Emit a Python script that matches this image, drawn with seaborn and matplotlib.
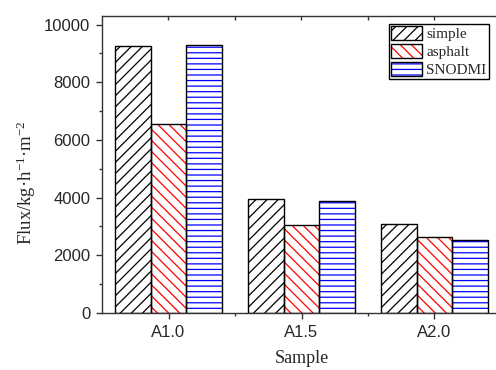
import matplotlib
matplotlib.use("Agg")
import matplotlib.pyplot as plt
import seaborn as sns
import pandas as pd
from matplotlib.patches import Rectangle, Patch
from matplotlib.legend_handler import HandlerTuple
from matplotlib.ticker import MultipleLocator, FixedLocator

# Flux of each membrane sample (kg·h^-1·m^-2)
samples = ["A1.0", "A1.5", "A2.0"]
series = ["simple", "asphalt", "SNODMI"]
simple = [9260, 3950, 3100]
asphalt = [6560, 3050, 2620]
snodmi = [9310, 3900, 2530]

hatches = ["///", "\\\\\\", "---"]
hatch_colors = ["black", "#ff0000", "#0000ff"]

df = pd.DataFrame({
    "Sample": samples * 3,
    "Type": [s for s in series for _ in samples],
    "Flux": simple + asphalt + snodmi,
})

sns.set_theme(style="ticks")
plt.rcParams["font.family"] = ["Liberation Sans", "DejaVu Sans"]
plt.rcParams["mathtext.default"] = "regular"
plt.rcParams["hatch.linewidth"] = 0.9

fig = plt.figure(figsize=(4.96, 3.70), dpi=100)
ax = fig.add_axes([102 / 496, 1 - 313 / 370, 399 / 496, 297 / 370])

sns.barplot(data=df, x="Sample", y="Flux", hue="Type", hue_order=series,
            palette=["white"] * 3, saturation=1, width=0.8, errorbar=None,
            legend=False, ax=ax)

for cont, h, c in zip(ax.containers, hatches, hatch_colors):
    for bar in cont:
        bar.set_facecolor("white")
        bar.set_hatch(h)
        bar.set_edgecolor(c)
        bar.set_linewidth(0)
        ax.add_patch(Rectangle(bar.get_xy(), bar.get_width(), bar.get_height(),
                               fill=False, edgecolor="black", lw=1.0,
                               zorder=bar.get_zorder() + 0.1))

ax.set_xlim(-0.5, 2.5)
ax.set_ylim(0, 10300)

ax.yaxis.set_major_locator(MultipleLocator(2000))
ax.yaxis.set_minor_locator(MultipleLocator(1000))
ax.xaxis.set_minor_locator(FixedLocator([0.5, 1.5]))

ax.tick_params(axis="both", which="major", labelsize=12, length=4.5,
               width=1, color="#333333", direction="out", pad=4)
ax.tick_params(axis="both", which="minor", length=2.5, width=1,
               color="#333333", direction="out")

top = ax.secondary_xaxis("top")
top.set_xticks([0, 0.5, 1, 1.5, 2])
top.tick_params(direction="in", length=3, width=1, color="#333333",
                labeltop=False)

for sp in ax.spines.values():
    sp.set_color("#333333")
    sp.set_linewidth(1.0)
top.spines["top"].set_visible(False)

serif = ["Liberation Serif", "DejaVu Serif"]
ax.set_xlabel("Sample", fontsize=13, family=serif)
ax.set_ylabel("Flux/kg·h$^{-1}$·m$^{-2}$", fontsize=13.5, family=serif)
ax.xaxis.set_label_coords(0.5, -0.125)
ax.yaxis.set_label_coords(-0.16, 0.44)

handles = []
for h, c in zip(hatches, hatch_colors):
    fill = Patch(facecolor="white", edgecolor=c, hatch=h, lw=0)
    frame = Patch(facecolor="none", edgecolor="black", lw=1.0)
    handles.append((fill, frame))

leg = ax.legend(handles, series, loc="upper right",
                bbox_to_anchor=(0.970, 0.973), handler_map={tuple: HandlerTuple(ndivide=1)},
                prop={"family": serif, "size": 11}, frameon=True, fancybox=False,
                edgecolor="black", framealpha=1, borderpad=0.15,
                handlelength=2.0, handleheight=1.0, handletextpad=0.3,
                labelspacing=0.18, borderaxespad=0)
leg.get_frame().set_linewidth(1.0)

fig.savefig("out.png", dpi=100)
